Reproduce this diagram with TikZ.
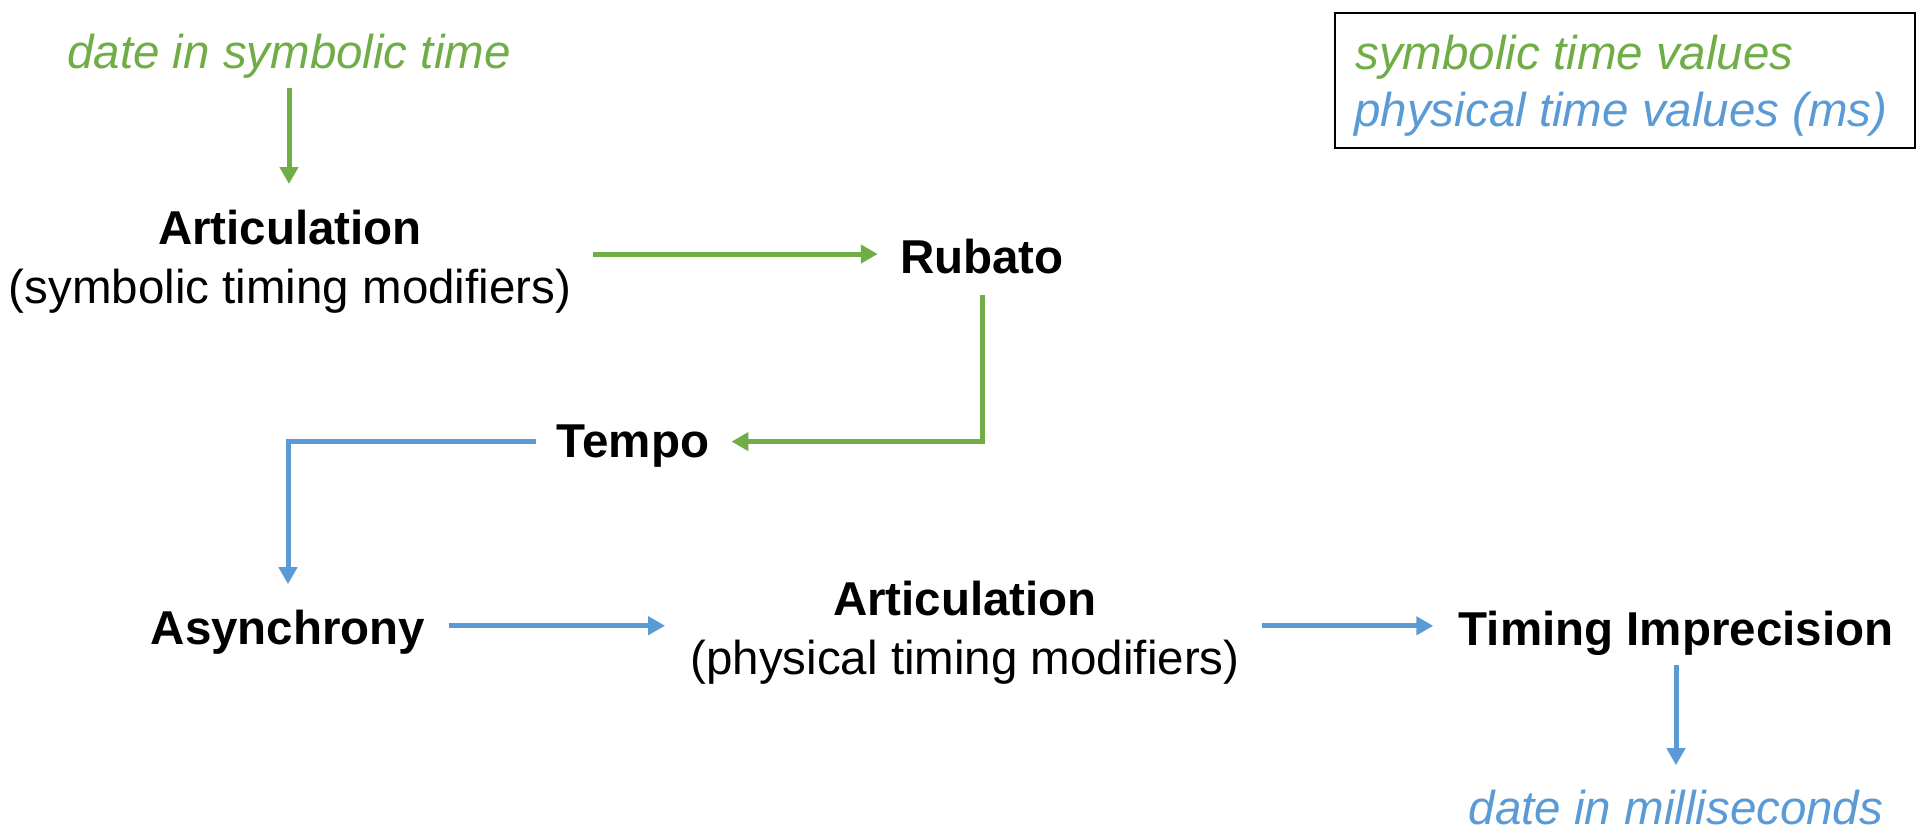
\documentclass[tikz,border=0pt]{standalone}
\usepackage{fontspec}
\setmainfont{Liberation Sans}
\usetikzlibrary{arrows.meta,calc}
\definecolor{sgreen}{HTML}{70AD47}
\definecolor{pblue}{HTML}{5B9BD5}
\tikzset{
  lbl/.style={inner sep=0pt, font=\fontsize{23.75}{29.5}\selectfont},
  title/.style={lbl, font=\fontsize{23.75}{29.5}\selectfont\bfseries},
  twoline/.style={lbl, align=center, anchor=north},
  gconn/.style={line width=2.5pt, draw=sgreen, -{Triangle[length=8.5pt,width=9pt,fill=sgreen]}},
  bconn/.style={line width=2.5pt, draw=pblue, -{Triangle[length=8.5pt,width=9pt,fill=pblue]}},
}
\begin{document}
\begin{tikzpicture}[x=0.5pt,y=-0.5pt]
\useasboundingbox (0,0) rectangle (1927,835);
% nodes
\node[lbl, anchor=base, text=sgreen, font=\fontsize{23.75}{29.5}\selectfont\itshape] (d1) at (289,68) {date in symbolic time};
\node[twoline] (art1) at (290,210) {\textbf{Articulation}\\(symbolic timing modifiers)};
\node[title, anchor=base] (rub) at (982,273) {Rubato};
\node[title, anchor=base] (tempo) at (633,457) {Tempo};
\node[title, anchor=base] (asyn) at (288,644) {Asynchrony};
\node[twoline] (art2) at (965,581) {\textbf{Articulation}\\(physical timing modifiers)};
\node[title, anchor=base] (tim) at (1676,645) {Timing Imprecision};
\node[lbl, anchor=base, text=pblue, font=\fontsize{23.75}{29.5}\selectfont\itshape] (d2) at (1676,824) {date in milliseconds};
% legend
\node[draw=black, line width=1pt, anchor=north west, minimum width=290pt, minimum height=67.5pt, inner sep=0pt] (leg) at (1334,12) {};
\node[lbl, anchor=base west, text=sgreen, font=\fontsize{23.75}{29.5}\selectfont\itshape] (legs) at (1355,69) {symbolic time values};
\node[lbl, anchor=base west, text=pblue, font=\fontsize{23.75}{29.5}\selectfont\itshape] (legp) at (1354,126) {physical time values (ms)};
% helper coordinates for connector heights
\coordinate (c2) at ($(rub.west)+(0,-2)$);
\coordinate (c3) at ($(tempo.east)+(0,-4)$);
\coordinate (c4) at ($(tempo.west)+(0,-4)$);
\coordinate (c5) at ($(asyn.east)+(0,-6)$);
\coordinate (c6) at ($(tim.west)+(0,-7)$);
% connectors
\draw[gconn, shorten <=5pt, shorten >=13pt] (d1.south) -- (d1.south |- art1.north);
\draw[gconn, shorten <=11pt, shorten >=11pt] (art1.east |- c2) -- (c2);
\draw[gconn, shorten <=10.5pt, shorten >=11pt] (rub.south) |- (c3);
\draw[bconn, shorten <=10.5pt, shorten >=12.5pt] (c4) -| (asyn.north);
\draw[bconn, shorten <=11.5pt, shorten >=12.5pt] (c5) -- (c5 -| art2.west);
\draw[bconn, shorten <=11pt, shorten >=12.5pt] (art2.east |- c6) -- (c6);
\draw[bconn, shorten <=5pt, shorten >=12pt] (tim.south) -- (tim.south |- d2.north);
\end{tikzpicture}
\end{document}
